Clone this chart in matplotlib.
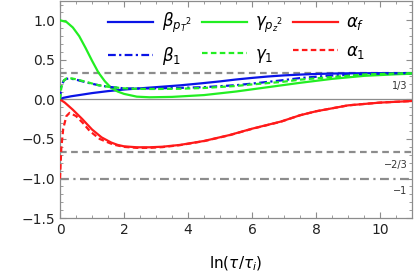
import matplotlib
matplotlib.use('Agg')
import matplotlib.pyplot as plt
from matplotlib.ticker import MultipleLocator

# solid curves
x_bpt = [0, 0.1, 0.35, 0.6, 1.0, 1.5, 2.0, 2.5, 3.0, 3.75, 4.4, 5.0, 5.5, 6.0, 6.5, 7.0, 7.5, 8.0, 8.5, 9.0, 10.0, 11.0]
beta_pt = [0, 0.02, 0.04, 0.055, 0.08, 0.105, 0.125, 0.14, 0.155, 0.178, 0.203, 0.228, 0.252, 0.272, 0.29, 0.304, 0.314, 0.322, 0.327, 0.33, 0.332, 0.333]

x_gpz = [0, 0.2, 0.4, 0.6, 0.8, 1.0, 1.2, 1.4, 1.6, 1.8, 2.0, 2.4, 2.8, 3.5, 4.5, 5.5, 6.5, 7.5, 8.5, 9.5, 10.5, 11.0]
gamma_pz = [1.0, 0.98, 0.91, 0.8, 0.65, 0.49, 0.34, 0.23, 0.145, 0.1, 0.07, 0.035, 0.027, 0.032, 0.055, 0.1, 0.155, 0.21, 0.26, 0.298, 0.318, 0.325]

x_af = [0, 0.15, 0.4, 0.7, 1.0, 1.3, 1.6, 1.8, 2.0, 2.4, 2.8, 3.2, 3.75, 4.5, 5.3, 6.0, 6.9, 7.5, 8.0, 9.0, 10.0, 11.0]
alpha_f = [0, -0.04, -0.13, -0.25, -0.38, -0.48, -0.545, -0.575, -0.593, -0.605, -0.605, -0.598, -0.575, -0.525, -0.45, -0.37, -0.28, -0.2, -0.15, -0.075, -0.04, -0.02]

# first-order curves
x_b1 = [0, 0.04, 0.12, 0.2, 0.3, 0.5, 0.875, 1.2, 1.5, 2.0, 2.5, 3.0, 3.75, 4.5, 5.5, 6.0, 6.9, 7.5, 8.4, 9.5, 10.5, 11.0]
beta_1 = [0, 0.17, 0.24, 0.26, 0.265, 0.25, 0.21, 0.18, 0.16, 0.14, 0.138, 0.14, 0.146, 0.155, 0.18, 0.2, 0.24, 0.27, 0.3, 0.322, 0.33, 0.333]
gamma_1 = [0, 0.15, 0.24, 0.265, 0.27, 0.255, 0.215, 0.18, 0.16, 0.14, 0.133, 0.132, 0.135, 0.145, 0.17, 0.19, 0.22, 0.25, 0.28, 0.315, 0.328, 0.332]

x_a1 = [0, 0.04, 0.1, 0.2, 0.3, 0.5, 0.72, 0.93, 1.24, 1.66, 2.0, 2.4, 2.8, 3.2, 3.75, 4.5, 5.3, 6.0, 6.9, 7.5, 8.0, 9.0, 10.0, 11.0]
alpha_1 = [-1.0, -0.62, -0.37, -0.21, -0.17, -0.21, -0.3, -0.4, -0.5, -0.57, -0.6, -0.612, -0.612, -0.603, -0.578, -0.527, -0.452, -0.372, -0.282, -0.2, -0.15, -0.075, -0.04, -0.02]

ref_levels = [1/3, -2/3, -1]
ref_text = ['1/3', '\u22122/3', '\u22121']

blue = '#0a14e6'
green = '#22ee22'
red = '#ff1a1a'
grey = '#8c8c8c'

fig = plt.figure(figsize=(4.15, 2.75), dpi=100)
ax = fig.add_axes([0.1446, 0.207, 0.8484, 0.791])

ax.axhline(0, color=grey, lw=0.9, zorder=1)
ax.axhline(ref_levels[0], color=grey, lw=1.6, ls=(0, (3, 2)), zorder=1)
ax.axhline(ref_levels[1], color=grey, lw=1.6, ls=(0, (3, 2)), zorder=1)
ax.axhline(ref_levels[2], color=grey, lw=1.6, ls=(0, (4, 2, 1, 2)), zorder=1)
for lv, t in zip(ref_levels, ref_text):
    ax.text(10.85, lv - 0.1, t, fontsize=7, color='#333333', ha='right', va='top')

l1, = ax.plot(x_bpt, beta_pt, color=blue, lw=1.6, zorder=3)
l2, = ax.plot(x_gpz, gamma_pz, color=green, lw=1.6, zorder=3)
l3, = ax.plot(x_af, alpha_f, color=red, lw=1.6, zorder=3)
l4, = ax.plot(x_b1, beta_1, color=blue, lw=1.6, ls=(0, (3.5, 1.5, 1, 1.5)), zorder=4)
l5, = ax.plot(x_b1, gamma_1, color=green, lw=1.6, ls=(0, (2.5, 1.5)), zorder=4)
l6, = ax.plot(x_a1, alpha_1, color=red, lw=1.6, ls=(0, (2.5, 1.5)), zorder=4)

ax.legend([l1, l4, l2, l5, l3, l6],
          [r'$\beta_{{p_T}^2}$', r'$\beta_1$', r'$\gamma_{{p_z}^2}$', r'$\gamma_1$', r'$\alpha_f$', r'$\alpha_1$'],
          ncol=3, loc='upper left', bbox_to_anchor=(0.095, 1.02), frameon=False,
          fontsize=12, handlelength=2.7, columnspacing=0.6, handletextpad=0.5, labelspacing=0.57)

ax.set_xlim(0, 11)
ax.set_ylim(-1.5, 1.25)
ax.xaxis.set_major_locator(MultipleLocator(2))
ax.xaxis.set_minor_locator(MultipleLocator(0.5))
ax.yaxis.set_minor_locator(MultipleLocator(0.1))
ax.set_yticks([-1.5, -1.0, -0.5, 0.0, 0.5, 1.0])
ax.set_yticklabels(['\u22121.5', '\u22121.0', '\u22120.5', '0.0', '0.5', '1.0'])
ax.tick_params(which='both', direction='in', top=True, right=True, color=grey, labelsize=10, labelcolor='#222222')
ax.tick_params(which='major', length=4.5, width=0.8)
ax.tick_params(which='minor', length=2.5, width=0.6)
for s in ax.spines.values():
    s.set_color(grey)
    s.set_linewidth(0.9)

ax.set_xlabel(r'$\mathrm{ln}(\tau/\tau_i)$', fontsize=11, labelpad=13)

fig.savefig('out.png', dpi=100)
